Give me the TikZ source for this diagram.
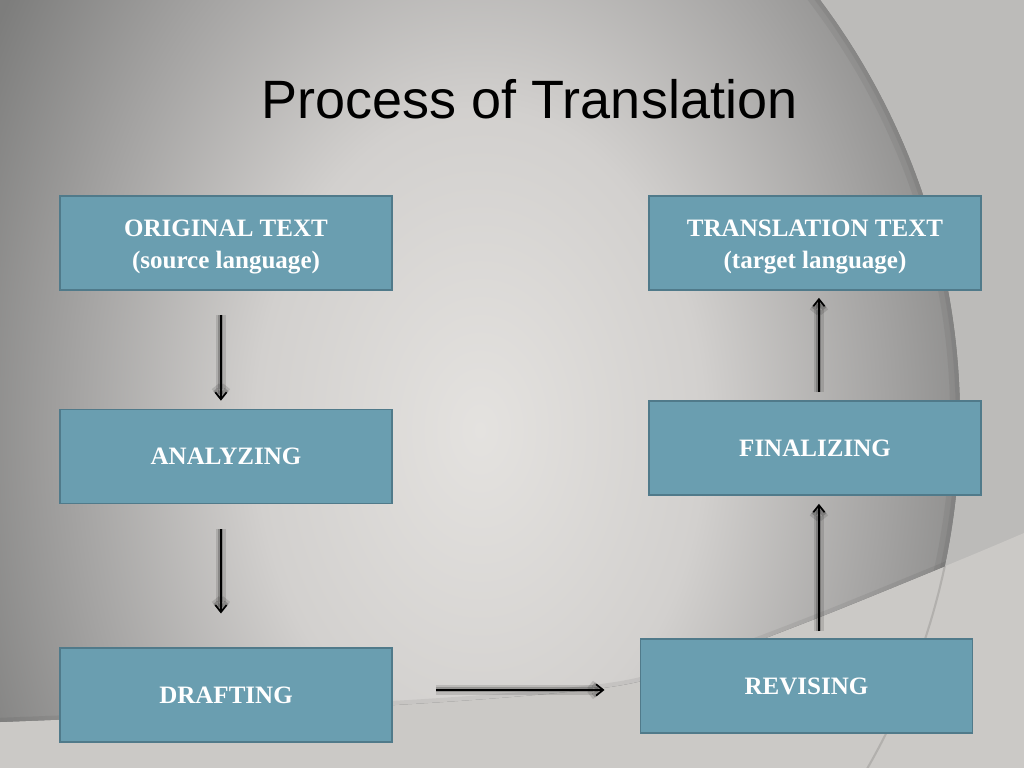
\documentclass[tikz,border=0pt]{standalone}
\usepackage{fontspec}
\setmainfont{Liberation Serif}
\newfontfamily\titlefont{Liberation Sans}
\usetikzlibrary{arrows.meta}
\definecolor{boxfill}{RGB}{106,158,176}
\definecolor{boxline}{RGB}{80,122,138}
\definecolor{bgtop}{RGB}{188,187,185}
\definecolor{bgband}{RGB}{203,201,198}
\definecolor{bgdark}{RGB}{125,125,124}
\pgfdeclareradialshading{bgglow}{\pgfpoint{0bp}{0bp}}{rgb(0bp)=(.894,.886,.875); rgb(10bp)=(.824,.816,.808); rgb(18bp)=(.647,.643,.639); rgb(25bp)=(.49,.49,.486); rgb(50bp)=(.49,.49,.486)}
\tikzset{
	stage/.style={draw=boxline, line width=1.2pt, fill=boxfill, minimum width=8.3cm, minimum height=2.35cm,
		inner sep=0pt, align=center, text=white, font=\bfseries\fontsize{17.8}{22.8}\selectfont},
	flow/.style={-{Straight Barb[length=5pt,width=8pt]}, line width=1.2pt,
		preaction={draw=black, opacity=.12, line width=6.5pt},
		preaction={draw=black, opacity=.2, line width=3.5pt}},
	band/.style={plot[smooth] coordinates {(1024,533) (960,560) (820,617) (700,662) (610,687) (395,705) (0,722)}}
}

\begin{document}
\begin{tikzpicture}[x=0.025cm,y=-0.025cm]
		\useasboundingbox (0,0) rectangle (1024,768);
		% background
		\fill[bgtop] (0,0) rectangle (1024,768);
		\fill[bgband] plot[smooth] coordinates {(1024,533) (960,560) (820,617) (700,662) (610,687) (395,705) (0,722)} -- (0,768) -- (1024,768) -- cycle;
		\begin{scope}
			\clip plot[smooth] coordinates {(1024,533) (960,560) (820,617) (700,662) (610,687) (395,705) (0,722)} -- (0,768) -- (1024,768) -- cycle;
			\draw[black, opacity=.12, line width=1.5pt] (260,420) circle (700);
		\end{scope}
		\begin{scope}
			\clip (260,420) circle (700);
			\clip plot[smooth] coordinates {(1024,533) (960,560) (820,617) (700,662) (610,687) (395,705) (0,722)} -- (0,0) -- (1024,0) -- cycle;
			\fill[bgdark] (0,0) rectangle (1024,768);
			\shade[shading=bgglow] (480,430) ellipse [x radius=560, y radius=800];
			\draw[black, opacity=.05, line width=14pt] (260,420) circle (700);
			\draw[black, opacity=.05, line width=6pt] (260,420) circle (700);
			\draw[black, opacity=.06, line width=6pt] plot[smooth] coordinates {(1024,533) (960,560) (820,617) (700,662) (610,687) (395,705) (0,722)};
		\end{scope}

		\node[font=\titlefont\fontsize{38.4}{46}\selectfont, anchor=base] (title) at (529.5,119) {Process of Translation};

		\node[stage] (orig) at (226,243) {\rule{0pt}{17.5pt}ORIGINAL TEXT\\(source language)};
		\node[stage] (ana) at (226,456.5) {ANALYZING};
		\node[stage] (draft) at (226,695) {DRAFTING};
		\node[stage] (trans) at (815,243) {\rule{0pt}{17.5pt}TRANSLATION TEXT\\(target language)};
		\node[stage] (fin) at (815,448) {FINALIZING};
		\node[stage] (rev) at (806.5,686) {REVISING};

		\draw[flow, shorten <=17pt, shorten >=5.7pt] ([xshift=-3.6pt]orig.south) -- ([xshift=-3.6pt]ana.north);
		\draw[flow, shorten <=17.8pt, shorten >=24pt] ([xshift=-3.6pt]ana.south) -- ([xshift=-3.6pt]draft.north);
		\draw[flow, shorten <=30.6pt, shorten >=25pt] ([yshift=3.6pt]draft.east) -- ([yshift=3.6pt]draft.east -| rev.west);
		\draw[flow, shorten <=5pt, shorten >=5.7pt] ([xshift=2.8pt]fin.south |- rev.north) -- ([xshift=2.8pt]fin.south);
		\draw[flow, shorten <=5.7pt, shorten >=5pt] ([xshift=2.8pt]fin.north) -- ([xshift=2.8pt]trans.south);
	\end{tikzpicture}
\end{document}
